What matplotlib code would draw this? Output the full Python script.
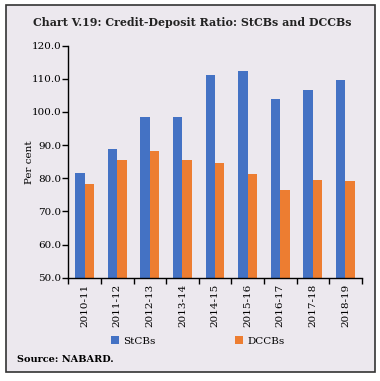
import matplotlib
matplotlib.use("Agg")
import matplotlib.pyplot as plt
import numpy as np
from matplotlib.patches import Rectangle

years = ["2010-11", "2011-12", "2012-13", "2013-14", "2014-15",
         "2015-16", "2016-17", "2017-18", "2018-19"]
stcbs = [81.5, 88.9, 98.5, 98.6, 111.3, 112.3, 103.9, 106.6, 109.7]
dccbs = [78.3, 85.6, 88.2, 85.6, 84.7, 81.3, 76.4, 79.5, 79.3]
yticks = [50, 60, 70, 80, 90, 100, 110, 120]

BG = "#ECE8EE"
BLUE = "#4472C4"
ORANGE = "#ED7D31"
plt.rcParams['font.family'] = ['DejaVu Serif']

W, H = 380, 381
fig = plt.figure(figsize=(W/100, H/100), dpi=100)
fig.patch.set_facecolor("white")
fig.add_artist(Rectangle((6/W, 1-372/H), (375-6)/W, (372-5)/H,
                         transform=fig.transFigure, facecolor=BG,
                         edgecolor="#333333", linewidth=1.2, zorder=0))

ax = fig.add_axes([68.3/W, 1-277.7/H, (361.7-68.3)/W, (277.7-45.7)/H])
ax.set_facecolor("none")
x = np.arange(len(years))
bw = 0.29
ax.bar(x - bw/2, [v - 50 for v in stcbs], bw, bottom=50, color=BLUE, label="StCBs")
ax.bar(x + bw/2, [v - 50 for v in dccbs], bw, bottom=50, color=ORANGE, label="DCCBs")
ax.set_xlim(-0.5, len(years) - 0.5)
ax.set_ylim(50, 120)
ax.set_yticks(yticks)
ax.set_yticklabels([f"{v:.1f}" for v in yticks], fontsize=7.5)
ax.set_xticks(x)
ax.set_xticklabels(years, rotation=90, fontsize=7.5)
ax.tick_params(axis='x', length=0, pad=4)
ax.set_xticks(np.arange(-0.5, len(years)), minor=True)
ax.tick_params(axis='x', which='minor', length=4, direction='out', width=1)
ax.tick_params(axis='y', length=4, width=1, pad=1)
for s in ["top", "right"]:
    ax.spines[s].set_visible(False)
for s in ["left", "bottom"]:
    ax.spines[s].set_linewidth(1)
ax.set_ylabel("Per cent", fontsize=7.5, labelpad=-2)

fig.text(33/W, 1-22/H, "Chart V.19: Credit-Deposit Ratio: StCBs and DCCBs",
         fontsize=7.9, fontweight="bold", va="center", ha="left", color="#222222")
leg = fig.legend(loc="center", bbox_to_anchor=(198/W, 1-341/H), ncol=2,
                 frameon=False, fontsize=7.5, handlelength=0.8, handleheight=0.8,
                 columnspacing=7.6, handletextpad=0.4)
fig.text(17/W, 1-359/H, "Source: NABARD.", fontsize=7, fontweight="bold",
         va="center", ha="left")
fig.savefig("out.png", dpi=100, facecolor=fig.get_facecolor())
